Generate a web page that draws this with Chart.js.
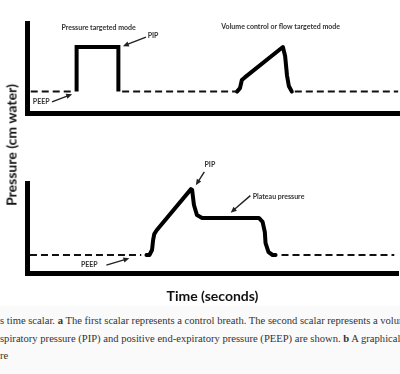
<!DOCTYPE html>
<html>
<head>
<meta charset="utf-8">
<script src="https://cdn.jsdelivr.net/npm/chart.js@4"></script>
<style>
  body { margin: 0; background: #fff; }
  #wrap { position: relative; width: 400px; height: 374px; overflow: hidden; background: #fff; }
  #top { position: absolute; left: 0; top: 0; }
  #bottom { position: absolute; left: 0; top: 150px; }
  #ytitle {
    position: absolute; left: 11px; top: 145px;
    transform: translate(-50%, -50%) rotate(-90deg);
    font: bold 14px Lato, sans-serif; color: #111; white-space: nowrap;
  }
  #caption { position: absolute; left: 0; top: 306px; width: 400px; height: 68px; background: #fafafa; }
  .line {
    position: absolute; left: 0; white-space: nowrap;
    font: 10.6px "Liberation Serif", serif; color: #333;
  }
</style>
</head>
<body>
<div id="wrap">
  <canvas id="top" width="400" height="125"></canvas>
  <canvas id="bottom" width="400" height="160"></canvas>
  <div id="ytitle">Pressure (cm water)</div>
  <div id="caption">
    <div class="line" style="top:9px">s time scalar. <b>a</b> The first scalar represents a control breath. The second scalar represents a volume</div>
    <div class="line" style="top:27px">spiratory pressure (PIP) and positive end-expiratory pressure (PEEP) are shown. <b>b</b> A graphical</div>
    <div class="line" style="top:44px">re</div>
  </div>
</div>
<script>
// Oben: druckkontrolliert + volumenkontrolliert (Zeit in s, Druck in cm H2O)
const topBaseTime = [0.1, 1.2, 1.3, 2.55, 5.63, 5.7, 7.18, 9.95];
const topBasePressure = [5, 5, null, 5, 5, null, 5, 5];
const pcvTime = [1.33, 1.33, 2.45, 2.45];
const pcvPressure = [5, 15.4, 15.4, 5];
const vcvTime = [5.63, 5.71, 5.76, 5.84, 6.86, 6.92, 6.97, 7.02, 7.1];
const vcvPressure = [5, 5.8, 7.7, 8.3, 15.4, 13.3, 8.8, 6.3, 5];

// Unten: Plateaudruck
const botBaseTime = [0.08, 3.08, 3.1, 6.86, 9.9];
const botBasePressure = [5, 5, null, 5, 5];
const plateauTime = [3.22, 3.30, 3.37, 3.40, 3.43, 3.49, 4.42, 4.45, 4.50, 4.58, 4.72, 6.25, 6.35, 6.41, 6.43, 6.51, 6.62, 6.70];
const plateauPressure = [5, 5, 6.4, 9.2, 10.8, 11.8, 23.3, 23.1, 18.9, 16.1, 15.3, 15.3, 14.2, 11.4, 8.3, 5.8, 5, 5];

function pts(t, p) { return t.map((v, i) => ({ x: v, y: p[i] })); }

// kleine Beschriftungen und Pfeile in Datenkoordinaten
const notes = {
  id: "notes",
  afterDatasetsDraw(chart, args, opts) {
    const { ctx, scales: { x, y } } = chart;
    ctx.save();
    ctx.fillStyle = "#333";
    ctx.font = "bold 7px Lato, sans-serif";
    ctx.textAlign = "center";
    ctx.textBaseline = "middle";
    (opts.labels || []).forEach(l => ctx.fillText(l.text, x.getPixelForValue(l.t), y.getPixelForValue(l.p)));
    ctx.strokeStyle = "#222";
    ctx.fillStyle = "#222";
    ctx.lineWidth = 1.4;
    (opts.arrows || []).forEach(a => {
      const x1 = x.getPixelForValue(a.from[0]), y1 = y.getPixelForValue(a.from[1]);
      const x2 = x.getPixelForValue(a.to[0]), y2 = y.getPixelForValue(a.to[1]);
      const ang = Math.atan2(y2 - y1, x2 - x1);
      ctx.beginPath();
      ctx.moveTo(x1, y1);
      ctx.lineTo(x2 - 4 * Math.cos(ang), y2 - 4 * Math.sin(ang));
      ctx.stroke();
      ctx.beginPath();
      ctx.moveTo(x2, y2);
      ctx.lineTo(x2 - 6 * Math.cos(ang) + 2.6 * Math.sin(ang), y2 - 6 * Math.sin(ang) - 2.6 * Math.cos(ang));
      ctx.lineTo(x2 - 6 * Math.cos(ang) - 2.6 * Math.sin(ang), y2 - 6 * Math.sin(ang) + 2.6 * Math.cos(ang));
      ctx.closePath();
      ctx.fill();
    });
    ctx.restore();
  }
};

function axes(ymax, xTitle) {
  const hidden = { display: false, drawTicks: false };
  const border = { display: true, width: 5, color: "#000" };
  return {
    x: {
      type: "linear", min: 0, max: 10,
      grid: hidden, border: border, ticks: { display: false },
      title: xTitle ? { display: true, text: xTitle, color: "#111", font: { family: "Lato", size: 14, weight: "bold" }, padding: { top: 14.6, bottom: 0 } } : { display: false }
    },
    y: { min: 0, max: ymax, grid: hidden, border: border, ticks: { display: false } }
  };
}

const dashed = { borderColor: "#111", borderWidth: 2, borderDash: [7, 4], pointRadius: 0, spanGaps: false };
const solid = { borderColor: "#000", borderWidth: 4, pointRadius: 0, tension: 0 };

new Chart(document.getElementById("top"), {
  type: "line",
  data: {
    datasets: [
      Object.assign({ data: pts(topBaseTime, topBasePressure) }, dashed),
      Object.assign({ data: pts(pcvTime, pcvPressure), borderJoinStyle: "miter" }, solid),
      Object.assign({ data: pts(vcvTime, vcvPressure), borderJoinStyle: "round", borderCapStyle: "round" }, solid)
    ]
  },
  options: {
    responsive: false, animation: false,
    layout: { padding: { left: 27, right: 0, top: 23, bottom: 12 } },
    plugins: {
      legend: { display: false }, tooltip: { enabled: false },
      notes: {
        labels: [
          { text: "Pressure targeted mode", t: 1.92, p: 19.8 },
          { text: "PIP", t: 3.38, p: 18.1 },
          { text: "PEEP", t: 0.38, p: 2.6 },
          { text: "Volume control or flow targeted mode", t: 6.8, p: 20.1 }
        ],
        arrows: [
          { from: [3.19, 17.7], to: [2.57, 15.6] },
          { from: [0.67, 2.6], to: [1.21, 4.4] }
        ]
      }
    },
    scales: axes(21)
  },
  plugins: [notes]
});

new Chart(document.getElementById("bottom"), {
  type: "line",
  data: {
    datasets: [
      Object.assign({ data: pts(botBaseTime, botBasePressure) }, dashed),
      Object.assign({ data: pts(plateauTime, plateauPressure), borderJoinStyle: "round", borderCapStyle: "round" }, solid)
    ]
  },
  options: {
    responsive: false, animation: false,
    layout: { padding: { left: 27, right: 2, top: 33, bottom: 5.6 } },
    plugins: {
      legend: { display: false }, tooltip: { enabled: false },
      notes: {
        labels: [
          { text: "PIP", t: 4.93, p: 30 },
          { text: "Plateau pressure", t: 6.78, p: 21.1 },
          { text: "PEEP", t: 1.68, p: 2.2 }
        ],
        arrows: [
          { from: [4.78, 28.1], to: [4.55, 24.4] },
          { from: [6.02, 21.5], to: [5.49, 16.75] },
          { from: [2.14, 2.2], to: [2.76, 4.1] }
        ]
      }
    },
    scales: axes(25, "Time (seconds)")
  },
  plugins: [notes]
});
</script>
</body>
</html>
